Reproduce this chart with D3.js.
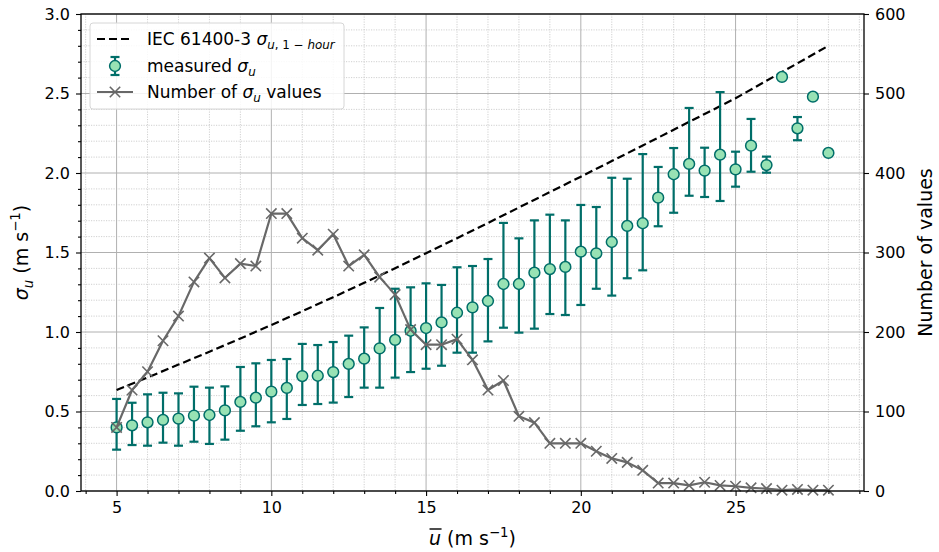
<!DOCTYPE html>
<html>
<head>
<meta charset="utf-8">
<script src="https://cdn.jsdelivr.net/npm/d3@7"></script>
<style>
  body { margin: 0; background: #fff; }
  svg { font-family: "DejaVu Sans", sans-serif; }
</style>
</head>
<body>
<svg id="chart" width="939" height="552"></svg>
<script>
// Wind-speed bins (m/s)
const windBins = [5,5.5,6,6.5,7,7.5,8,8.5,9,9.5,10,10.5,11,11.5,12,12.5,13,13.5,14,14.5,15,15.5,16,16.5,17,17.5,18,18.5,19,19.5,20,20.5,21,21.5,22,22.5,23,23.5,24,24.5,25,25.5,26,26.5,27,27.5,28];
// Mean measured sigma_u per bin (m/s)
const sigmaMean = [0.40,0.413,0.432,0.447,0.455,0.474,0.478,0.507,0.56,0.587,0.625,0.648,0.723,0.725,0.748,0.799,0.832,0.897,0.95,1.008,1.025,1.06,1.121,1.155,1.195,1.302,1.302,1.373,1.396,1.409,1.505,1.495,1.566,1.667,1.684,1.845,1.992,2.057,2.015,2.115,2.023,2.172,2.05,2.604,2.281,2.48,2.126];
// Upper / lower ends of the error bars (null where a bin holds a single value)
const sigmaHigh = [0.579,0.555,0.608,0.618,0.614,0.656,0.65,0.658,0.78,0.803,0.824,0.83,0.925,0.918,0.937,0.977,1.029,1.151,1.272,1.281,1.306,1.296,1.407,1.415,1.459,1.686,1.589,1.702,1.738,1.702,1.799,1.786,1.97,1.964,2.119,2.038,2.157,2.409,2.159,2.509,2.134,2.34,2.103,null,2.352,null,null];
const sigmaLow = [0.26,0.289,0.285,0.304,0.285,0.31,0.296,0.323,0.379,0.407,0.432,0.453,0.541,0.547,0.556,0.591,0.65,0.65,0.713,0.748,0.769,0.788,0.87,0.87,0.941,1.027,0.996,1.021,1.113,1.107,1.17,1.272,1.229,1.338,1.388,1.665,1.75,1.857,1.849,1.824,1.914,2.008,2.002,null,2.206,null,null];
// Number of sigma_u values per bin
const sampleCount = [80,127,150,189,220,263,293,268,286,283,349,349,318,303,323,283,297,269,247,203,184,184,191,165,127,139,94,86,60,60,60,50,41,36,26,10,10,7,11,7,6,4,3,1,2,1,1];
// IEC 61400-3 normal turbulence sigma_u,1-hour
const iecWind = [5,6,7,8,9,10,11,12,13,14,15,16,17,18,19,20,21,22,23,24,25,26,27,28];
const iecSigma = [0.635,0.714,0.795,0.876,0.959,1.044,1.131,1.219,1.309,1.401,1.495,1.590,1.686,1.783,1.880,1.977,2.075,2.173,2.272,2.371,2.470,2.580,2.690,2.800];
// Tick values
const xTicks = [5,10,15,20,25];
const xMinorTicks = [4,6,7,8,9,11,12,13,14,16,17,18,19,21,22,23,24,26,27,28,29];
const yTicks = [0,0.5,1.0,1.5,2.0,2.5,3.0];
const countTicks = [0,100,200,300,400,500,600];

const svg = d3.select('#chart');
const L = 81, R = 864, T = 14, B = 491;
const x = d3.scaleLinear().domain([3.85, 29.15]).range([L, R]);
const y = d3.scaleLinear().domain([0, 3]).range([B, T]);
const y2 = d3.scaleLinear().domain([0, 600]).range([B, T]);

const teal = '#006e69', mint = '#98e2b4', gray = '#686868';

// Text helper: parts may be italic, subscript or superscript
function richText(g, px, py, parts, size, anchor) {
  const t = g.append('text').attr('x', px).attr('y', py)
    .attr('font-size', size).attr('text-anchor', anchor || 'start').attr('fill', '#000');
  let shift = 0;
  parts.forEach(p => {
    const target = p.sub ? size * 0.26 : p.sup ? -size * 0.42 : 0;
    const ts = t.append('tspan').text(p.t).attr('dy', target - shift);
    shift = target;
    if (p.sub || p.sup) ts.attr('font-size', size * 0.7);
    if (p.it) ts.attr('font-style', 'italic');
  });
  return t;
}

// Grid
const grid = svg.append('g');
const yMinor = d3.range(1, 30).map(i => i / 10).filter(v => Math.abs(v * 2 - Math.round(v * 2)) > 1e-6);
grid.selectAll('.xm').data(xMinorTicks.filter(v => v > 3.85 && v < 29.15)).join('line')
  .attr('x1', d => x(d)).attr('x2', d => x(d)).attr('y1', T).attr('y2', B)
  .attr('stroke', '#c4c4c4').attr('stroke-width', 0.8).attr('stroke-dasharray', '1.2,1.3');
grid.selectAll('.ym').data(yMinor).join('line')
  .attr('x1', L).attr('x2', R).attr('y1', d => y(d)).attr('y2', d => y(d))
  .attr('stroke', '#c4c4c4').attr('stroke-width', 0.8).attr('stroke-dasharray', '1.2,1.3');
grid.selectAll('.xM').data(xTicks).join('line')
  .attr('x1', d => x(d)).attr('x2', d => x(d)).attr('y1', T).attr('y2', B)
  .attr('stroke', '#b0b0b0').attr('stroke-width', 1);
grid.selectAll('.yM').data(yTicks).join('line')
  .attr('x1', L).attr('x2', R).attr('y1', d => y(d)).attr('y2', d => y(d))
  .attr('stroke', '#b0b0b0').attr('stroke-width', 1);

// IEC reference curve
svg.append('path').datum(iecWind.map((w, i) => [w, iecSigma[i]]))
  .attr('fill', 'none').attr('stroke', '#000').attr('stroke-width', 2.2)
  .attr('stroke-dasharray', '8,4')
  .attr('d', d3.line().x(d => x(d[0])).y(d => y(d[1])));

// Error bars and measured points
const pts = windBins.map((w, i) => ({ w, m: sigmaMean[i], lo: sigmaLow[i], hi: sigmaHigh[i] }));
const eb = svg.append('g').attr('stroke', teal).attr('stroke-width', 2.2);
const withErr = pts.filter(d => d.lo !== null);
eb.selectAll('.v').data(withErr).join('line')
  .attr('x1', d => x(d.w)).attr('x2', d => x(d.w)).attr('y1', d => y(d.lo)).attr('y2', d => y(d.hi));
eb.selectAll('.ct').data(withErr).join('line')
  .attr('x1', d => x(d.w) - 4.5).attr('x2', d => x(d.w) + 4.5).attr('y1', d => y(d.hi)).attr('y2', d => y(d.hi));
eb.selectAll('.cb').data(withErr).join('line')
  .attr('x1', d => x(d.w) - 4.5).attr('x2', d => x(d.w) + 4.5).attr('y1', d => y(d.lo)).attr('y2', d => y(d.lo));
svg.append('g').selectAll('circle').data(pts).join('circle')
  .attr('cx', d => x(d.w)).attr('cy', d => y(d.m)).attr('r', 5.4)
  .attr('fill', mint).attr('stroke', teal).attr('stroke-width', 1.5);

// Sample count line (right axis)
const cnt = windBins.map((w, i) => [w, sampleCount[i]]);
svg.append('path').datum(cnt).attr('fill', 'none').attr('stroke', gray).attr('stroke-width', 2.2)
  .attr('stroke-linejoin', 'round')
  .attr('d', d3.line().x(d => x(d[0])).y(d => y2(d[1])));
const xm = 5.2;
svg.append('g').selectAll('path').data(cnt).join('path')
  .attr('d', d => {
    const cx = x(d[0]), cy = y2(d[1]);
    return `M${cx - xm},${cy - xm}L${cx + xm},${cy + xm}M${cx - xm},${cy + xm}L${cx + xm},${cy - xm}`;
  })
  .attr('stroke', gray).attr('stroke-width', 1.6);

// Axes
const axStyle = g => {
  g.select('.domain').remove();
  g.selectAll('.tick line').attr('stroke', '#000').attr('stroke-width', 1.1);
  g.selectAll('.tick text').attr('font-size', 16).attr('fill', '#000').attr('font-family', '"DejaVu Sans", sans-serif');
};
svg.append('g').attr('transform', `translate(0,${B})`)
  .call(d3.axisBottom(x).tickValues(xTicks).tickSize(5).tickPadding(6).tickFormat(d3.format('d'))).call(axStyle);
svg.append('g').attr('transform', `translate(0,${B})`)
  .call(d3.axisBottom(x).tickValues(xMinorTicks).tickSize(3).tickFormat('')).call(axStyle);
svg.append('g').attr('transform', `translate(${L},0)`)
  .call(d3.axisLeft(y).tickValues(yTicks).tickSize(5).tickPadding(6).tickFormat(d3.format('.1f'))).call(axStyle);
svg.append('g').attr('transform', `translate(${L},0)`)
  .call(d3.axisLeft(y).tickValues(yMinor).tickSize(3).tickFormat('')).call(axStyle);
svg.append('g').attr('transform', `translate(${R},0)`)
  .call(d3.axisRight(y2).tickValues(countTicks).tickSize(5).tickPadding(6).tickFormat(d3.format('d'))).call(axStyle);

// Frame
svg.append('rect').attr('x', L).attr('y', T).attr('width', R - L).attr('height', B - T)
  .attr('fill', 'none').attr('stroke', '#000').attr('stroke-width', 1.3);

// Axis labels
const xl = richText(svg, (L + R) / 2, 545, [{ t: 'u', it: true }, { t: ' (m s' }, { t: '−1', sup: true }, { t: ')' }], 19, 'middle');
const ext = xl.node().getExtentOfChar(0);
svg.append('line').attr('x1', ext.x + 0.5).attr('x2', ext.x + ext.width + 0.5)
  .attr('y1', ext.y + 2).attr('y2', ext.y + 2).attr('stroke', '#000').attr('stroke-width', 1.4);

const ylG = svg.append('g').attr('transform', `translate(28,${(T + B) / 2}) rotate(-90)`);
richText(ylG, 0, 0, [{ t: 'σ', it: true }, { t: 'u', it: true, sub: true }, { t: ' (m s' }, { t: '−1', sup: true }, { t: ')' }], 19, 'middle');

const yrG = svg.append('g').attr('transform', `translate(932,${(T + B) / 2}) rotate(-90)`);
richText(yrG, 0, 0, [{ t: 'Number of values' }], 19, 'middle');

// Legend
const lg = svg.append('g');
lg.append('rect').attr('x', 90).attr('y', 23).attr('width', 254).attr('height', 86).attr('rx', 3)
  .attr('fill', '#fff').attr('fill-opacity', 0.85).attr('stroke', '#d6d6d6').attr('stroke-width', 1);
const r1 = 39, r2 = 66, r3 = 92, fs = 17;
lg.append('line').attr('x1', 97).attr('x2', 133).attr('y1', r1).attr('y2', r1)
  .attr('stroke', '#000').attr('stroke-width', 2.2).attr('stroke-dasharray', '8,4');
richText(lg, 147, r1 + 6, [{ t: 'IEC 61400-3 ' }, { t: 'σ', it: true }, { t: 'u', it: true, sub: true }, { t: ', 1 − ', sub: true }, { t: 'hour', it: true, sub: true }], fs);
const lx = 115;
lg.append('line').attr('x1', lx).attr('x2', lx).attr('y1', r2 - 9).attr('y2', r2 + 9).attr('stroke', teal).attr('stroke-width', 2.2);
lg.append('line').attr('x1', lx - 4.5).attr('x2', lx + 4.5).attr('y1', r2 - 9).attr('y2', r2 - 9).attr('stroke', teal).attr('stroke-width', 2.2);
lg.append('line').attr('x1', lx - 4.5).attr('x2', lx + 4.5).attr('y1', r2 + 9).attr('y2', r2 + 9).attr('stroke', teal).attr('stroke-width', 2.2);
lg.append('circle').attr('cx', lx).attr('cy', r2).attr('r', 5.4).attr('fill', mint).attr('stroke', teal).attr('stroke-width', 1.5);
richText(lg, 147, r2 + 6, [{ t: 'measured ' }, { t: 'σ', it: true }, { t: 'u', it: true, sub: true }], fs);
lg.append('line').attr('x1', 97).attr('x2', 133).attr('y1', r3).attr('y2', r3).attr('stroke', gray).attr('stroke-width', 2.2);
lg.append('path').attr('d', `M${lx - xm},${r3 - xm}L${lx + xm},${r3 + xm}M${lx - xm},${r3 + xm}L${lx + xm},${r3 - xm}`)
  .attr('stroke', gray).attr('stroke-width', 1.6);
richText(lg, 147, r3 + 6, [{ t: 'Number of ' }, { t: 'σ', it: true }, { t: 'u', it: true, sub: true }, { t: ' values' }], fs);
</script>
</body>
</html>
